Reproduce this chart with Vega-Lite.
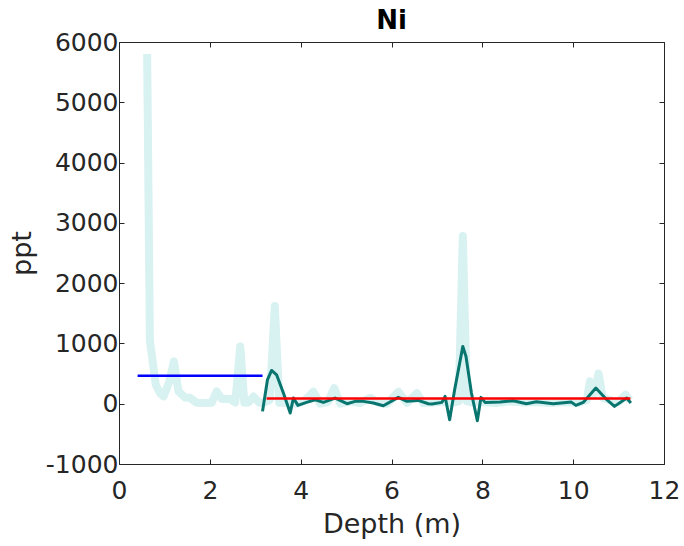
{
  "$schema": "https://vega.github.io/schema/vega-lite/v6.json",
  "width": 545,
  "height": 422,
  "autosize": {"type": "none"},
  "padding": {"left": 119, "top": 42, "right": 20, "bottom": 82},
  "title": {"text": "Ni", "fontSize": 26, "font": "DejaVu Sans", "fontWeight": "bold", "color": "#000000", "offset": -4},
  "config": {
    "view": {"stroke": null},
    "axis": {"grid": false, "domainColor": "#262626", "tickColor": "#262626", "labelColor": "#262626", "titleColor": "#262626", "labelFont": "DejaVu Sans", "titleFont": "DejaVu Sans", "labelFontSize": 25, "titleFontSize": 27, "titleFontWeight": "normal", "tickSize": -5, "domainWidth": 1, "tickWidth": 1, "labelFlush": false, "labelOverlap": false}
  },
  "datasets": {
    "raw": [
      {"depth": 0.62, "value": 5800}, {"depth": 0.68, "value": 1050}, {"depth": 0.81, "value": 315},
      {"depth": 0.9, "value": 180}, {"depth": 0.98, "value": 120}, {"depth": 1.1, "value": 350}, {"depth": 1.21, "value": 700},
      {"depth": 1.31, "value": 205}, {"depth": 1.45, "value": 105}, {"depth": 1.56, "value": 100}, {"depth": 1.71, "value": 15},
      {"depth": 1.9, "value": 10}, {"depth": 2.04, "value": 15}, {"depth": 2.15, "value": 205}, {"depth": 2.26, "value": 80},
      {"depth": 2.44, "value": 80}, {"depth": 2.56, "value": 20}, {"depth": 2.67, "value": 950},
      {"depth": 2.76, "value": 15}, {"depth": 2.85, "value": 20}, {"depth": 2.96, "value": 120}, {"depth": 3.09, "value": 15},
      {"depth": 3.18, "value": 15}, {"depth": 3.32, "value": 60}, {"depth": 3.43, "value": 1620},
      {"depth": 3.53, "value": 15}, {"depth": 3.7, "value": 20}, {"depth": 3.91, "value": 0}, {"depth": 4.1, "value": 60},
      {"depth": 4.28, "value": 200}, {"depth": 4.43, "value": 0}, {"depth": 4.6, "value": 30}, {"depth": 4.74, "value": 260},
      {"depth": 4.87, "value": 0}, {"depth": 5.1, "value": 40}, {"depth": 5.3, "value": 10}, {"depth": 5.53, "value": 100},
      {"depth": 5.7, "value": 20}, {"depth": 5.9, "value": 0}, {"depth": 6.15, "value": 200}, {"depth": 6.34, "value": 15},
      {"depth": 6.56, "value": 175}, {"depth": 6.7, "value": 10}, {"depth": 6.9, "value": 20}, {"depth": 7.1, "value": 30},
      {"depth": 7.3, "value": 10}, {"depth": 7.48, "value": 40}, {"depth": 7.57, "value": 2780},
      {"depth": 7.66, "value": 40}, {"depth": 7.8, "value": 20}, {"depth": 8.0, "value": 30}, {"depth": 8.3, "value": 10},
      {"depth": 8.6, "value": 40}, {"depth": 8.9, "value": 20}, {"depth": 9.2, "value": 30}, {"depth": 9.5, "value": 10},
      {"depth": 9.8, "value": 30}, {"depth": 10.1, "value": 20}, {"depth": 10.3, "value": 60}, {"depth": 10.37, "value": 370},
      {"depth": 10.45, "value": 150}, {"depth": 10.56, "value": 500}, {"depth": 10.65, "value": 100},
      {"depth": 10.8, "value": 60}, {"depth": 11.0, "value": 30}, {"depth": 11.15, "value": 150}, {"depth": 11.25, "value": 60}
    ],
    "filtered": [
      {"depth": 3.16, "value": -127}, {"depth": 3.27, "value": 400}, {"depth": 3.36, "value": 552}, {"depth": 3.47, "value": 480},
      {"depth": 3.62, "value": 177}, {"depth": 3.77, "value": -155}, {"depth": 3.84, "value": 94}, {"depth": 3.94, "value": -28},
      {"depth": 4.13, "value": 22}, {"depth": 4.32, "value": 66}, {"depth": 4.5, "value": 22}, {"depth": 4.76, "value": 94},
      {"depth": 5.02, "value": 0}, {"depth": 5.2, "value": 39}, {"depth": 5.38, "value": 39}, {"depth": 5.6, "value": 11},
      {"depth": 5.82, "value": -33}, {"depth": 6.15, "value": 105}, {"depth": 6.34, "value": 39}, {"depth": 6.59, "value": 55},
      {"depth": 6.81, "value": 0}, {"depth": 6.89, "value": -5}, {"depth": 7.11, "value": 22}, {"depth": 7.18, "value": 121},
      {"depth": 7.28, "value": -265}, {"depth": 7.39, "value": 232}, {"depth": 7.57, "value": 950}, {"depth": 7.64, "value": 785},
      {"depth": 7.76, "value": 177}, {"depth": 7.89, "value": -282}, {"depth": 7.97, "value": 105}, {"depth": 8.06, "value": 22},
      {"depth": 8.39, "value": 27}, {"depth": 8.68, "value": 50}, {"depth": 8.97, "value": 0}, {"depth": 9.19, "value": 33},
      {"depth": 9.56, "value": 0}, {"depth": 9.96, "value": 27}, {"depth": 10.06, "value": -28}, {"depth": 10.22, "value": 22},
      {"depth": 10.5, "value": 260}, {"depth": 10.74, "value": 66}, {"depth": 10.91, "value": -44}, {"depth": 11.18, "value": 94},
      {"depth": 11.27, "value": 11}
    ],
    "levels": [
      {"start": 0.41, "end": 3.16, "level": 465, "segment": "upper"},
      {"start": 3.25, "end": 11.26, "level": 85, "segment": "lower"}
    ]
  },
  "layer": [
    {
      "data": {"name": "raw"},
      "mark": {"type": "line", "color": "#d8f1f1", "strokeWidth": 8, "strokeJoin": "round"},
      "encoding": {
        "x": {"field": "depth", "type": "quantitative", "scale": {"domain": [0, 12], "nice": false, "zero": false},
              "axis": {"orient": "bottom", "values": [0, 2, 4, 6, 8, 10, 12], "title": "Depth (m)", "labelPadding": 19, "titlePadding": 8}},
        "y": {"field": "value", "type": "quantitative", "scale": {"domain": [-1000, 6000], "nice": false, "zero": false},
              "axis": {"orient": "left", "values": [-1000, 0, 1000, 2000, 3000, 4000, 5000, 6000], "labelExpr": "'' + datum.value", "title": "ppt", "labelPadding": 6, "titlePadding": 9}}
      }
    },
    {
      "data": {"name": "filtered"},
      "mark": {"type": "line", "color": "#08756f", "strokeWidth": 3, "strokeJoin": "round"},
      "encoding": {
        "x": {"field": "depth", "type": "quantitative", "scale": {"domain": [0, 12], "nice": false, "zero": false}, "axis": null},
        "y": {"field": "value", "type": "quantitative", "scale": {"domain": [-1000, 6000], "nice": false, "zero": false}, "axis": null}
      }
    },
    {
      "data": {"name": "levels"},
      "mark": {"type": "rule", "strokeWidth": 2.5},
      "encoding": {
        "x": {"field": "start", "type": "quantitative", "scale": {"domain": [0, 12], "nice": false, "zero": false}, "axis": null},
        "x2": {"field": "end"},
        "y": {"field": "level", "type": "quantitative", "scale": {"domain": [-1000, 6000], "nice": false, "zero": false}, "axis": null},
        "color": {"field": "segment", "type": "nominal", "scale": {"domain": ["upper", "lower"], "range": ["#0000ff", "#ff0000"]}, "legend": null}
      }
    },
    {
      "data": {"name": "raw"},
      "mark": {"type": "line", "strokeOpacity": 0},
      "encoding": {
        "x": {"field": "depth", "type": "quantitative", "scale": {"domain": [0, 12], "nice": false, "zero": false},
              "axis": {"orient": "top", "values": [0, 2, 4, 6, 8, 10, 12], "labels": false, "title": null}},
        "y": {"field": "value", "type": "quantitative", "scale": {"domain": [-1000, 6000], "nice": false, "zero": false},
              "axis": {"orient": "right", "values": [-1000, 0, 1000, 2000, 3000, 4000, 5000, 6000], "labels": false, "title": null}}
      }
    }
  ],
  "resolve": {"axis": {"x": "independent", "y": "independent"}}
}
